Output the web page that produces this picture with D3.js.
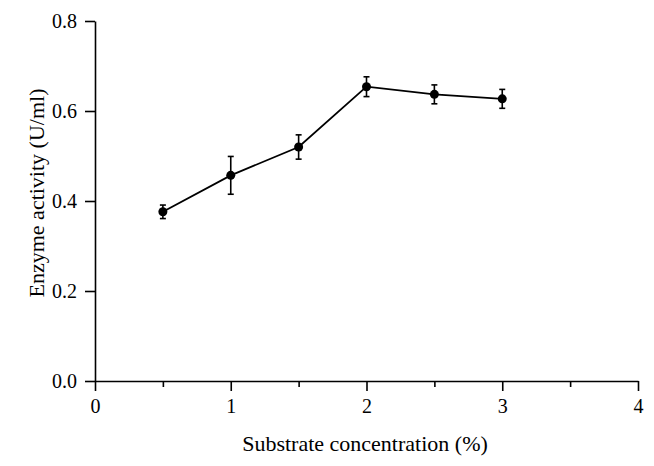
<!DOCTYPE html>
<html><head><meta charset="utf-8">
<script src="https://cdn.jsdelivr.net/npm/d3@7"></script>
<style>
html,body{margin:0;padding:0;background:#fff;}
svg text{font-family:"Liberation Serif","Times New Roman",serif;fill:#000;}
</style></head>
<body><svg id="c" width="654" height="466"></svg>
<script>
const concentration = [0.5, 1.0, 1.5, 2.0, 2.5, 3.0];
const activity = [0.376, 0.457, 0.520, 0.654, 0.637, 0.627];
const errors = [0.015, 0.042, 0.027, 0.022, 0.021, 0.021];
const xTicks = [0, 1, 2, 3, 4];
const xMinorTicks = [0.5, 1.5, 2.5, 3.5];
const yTicks = [0, 0.2, 0.4, 0.6, 0.8];

const svg = d3.select("#c");
const x = d3.scaleLinear().domain([0, 4]).range([95, 638]);
const y = d3.scaleLinear().domain([0, 0.8]).range([381, 21]);

// x axis
const gx = svg.append("g").attr("transform", `translate(0,${y(0)})`)
  .call(d3.axisBottom(x).tickValues(xTicks).tickFormat(d3.format("d")).tickSize(10).tickSizeOuter(0).tickPadding(8));
gx.select(".domain").attr("stroke-width", 1.6);
gx.selectAll(".tick line").attr("stroke-width", 1.6);
gx.selectAll(".tick text").attr("font-size", 20).attr("font-family", "Liberation Serif");
svg.append("g").attr("transform", `translate(0,${y(0)})`)
  .call(d3.axisBottom(x).tickValues(xMinorTicks).tickFormat("").tickSize(6).tickSizeOuter(0))
  .call(g => g.select(".domain").remove())
  .selectAll(".tick line").attr("stroke-width", 1.6);

// y axis
const gy = svg.append("g").attr("transform", `translate(${x(0)},0)`)
  .call(d3.axisLeft(y).tickValues(yTicks).tickFormat(d3.format(".1f")).tickSize(10).tickSizeOuter(0).tickPadding(8));
gy.select(".domain").attr("stroke-width", 1.6);
gy.selectAll(".tick line").attr("stroke-width", 1.6);
gy.selectAll(".tick text").attr("font-size", 20).attr("font-family", "Liberation Serif");

// line
const pts = concentration.map((c, i) => ({x: c, y: activity[i], e: errors[i]}));
svg.append("path").datum(pts)
  .attr("fill", "none").attr("stroke", "#000").attr("stroke-width", 1.8)
  .attr("d", d3.line().x(d => x(d.x)).y(d => y(d.y)));

// error bars
const eb = svg.append("g").attr("stroke", "#000").attr("stroke-width", 1.6);
eb.selectAll("line.v").data(pts).join("line")
  .attr("x1", d => x(d.x)).attr("x2", d => x(d.x))
  .attr("y1", d => y(d.y + d.e)).attr("y2", d => y(d.y - d.e));
eb.selectAll("line.t").data(pts).join("line")
  .attr("x1", d => x(d.x) - 3).attr("x2", d => x(d.x) + 3)
  .attr("y1", d => y(d.y + d.e)).attr("y2", d => y(d.y + d.e));
eb.selectAll("line.b").data(pts).join("line")
  .attr("x1", d => x(d.x) - 3).attr("x2", d => x(d.x) + 3)
  .attr("y1", d => y(d.y - d.e)).attr("y2", d => y(d.y - d.e));

// points
svg.append("g").selectAll("circle").data(pts).join("circle")
  .attr("cx", d => x(d.x)).attr("cy", d => y(d.y)).attr("r", 4.5).attr("fill", "#000");

// axis titles
svg.append("text").attr("x", 365).attr("y", 451).attr("text-anchor", "middle")
  .attr("font-size", 22).text("Substrate concentration (%)");
svg.append("text").attr("transform", "translate(44,193) rotate(-90)").attr("text-anchor", "middle")
  .attr("font-size", 22).text("Enzyme activity (U/ml)");
</script></body></html>
